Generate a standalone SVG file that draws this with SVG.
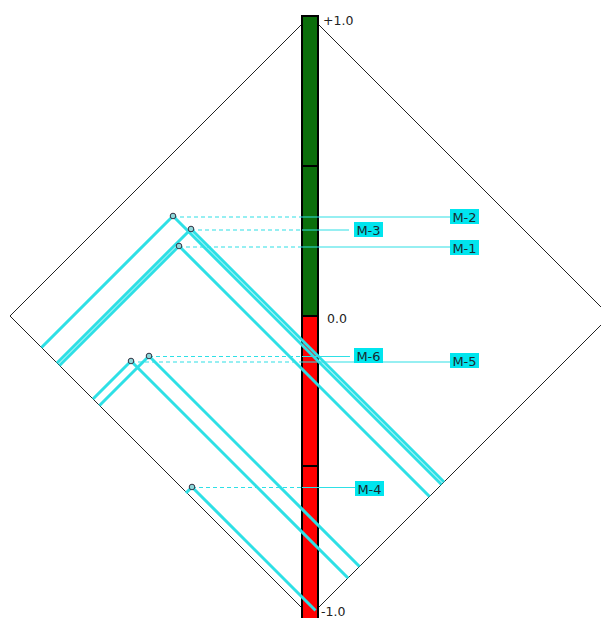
<svg xmlns="http://www.w3.org/2000/svg" width="601" height="618" viewBox="0 0 601 618">
<style>
.edge{fill:none;stroke:#222;stroke-width:1}
.ray{fill:none;stroke:#2ee0e6;stroke-width:3}
.dash{fill:none;stroke:#2ee0e6;stroke-width:1.2;stroke-dasharray:4 3}
.lead{fill:none;stroke:#2ee0e6;stroke-width:1.2}
.pt{fill:#8fd8da;stroke:#334;stroke-width:1}
.lbl rect{fill:#00e5ee}
.lbl text{font-family:"DejaVu Sans",Verdana,sans-serif;font-size:13px;fill:#1a2a30;text-anchor:middle}
.ax{font-family:"DejaVu Sans",Verdana,sans-serif;font-size:12.5px;fill:#222}
</style>
<rect width="601" height="618" fill="#fff"/>
<polygon class="edge" points="310,16 10,316 310,616 610,316"/>
<g id="scale">
<rect x="302" y="16" width="16" height="300" fill="#0b6e0b" stroke="#000" stroke-width="2"/>
<rect x="302" y="316" width="16" height="304" fill="#f00" stroke="#000" stroke-width="2"/>
<line x1="302" y1="166" x2="318" y2="166" stroke="#000" stroke-width="2"/>
<line x1="302" y1="466" x2="318" y2="466" stroke="#000" stroke-width="2"/>
<text class="ax" x="323" y="25">+1.0</text>
<text class="ax" x="327" y="323">0.0</text>
<text class="ax" x="321" y="616">-1.0</text>
</g>
<g id="connectors">
<polyline class="ray" points="41.5,347.5 173,216 441.5,484.5"/>
<polyline class="ray" points="57,363 191,229 444,482"/>
<polyline class="ray" points="59.5,365.5 179,246 429.5,496.5"/>
<polyline class="ray" points="99.5,405.5 149,356 359.5,566.5"/>
<polyline class="ray" points="93,399 131,361 348,578"/>
<polyline class="ray" points="186,493 192,487 315.5,610.5"/>
<line class="dash" x1="173" y1="217" x2="302" y2="217"/>
<line class="lead" x1="302" y1="217" x2="450" y2="217"/>
<line class="dash" x1="191" y1="230" x2="302" y2="230"/>
<line class="lead" x1="302" y1="230" x2="349" y2="230"/>
<line class="dash" x1="179" y1="247" x2="302" y2="247"/>
<line class="lead" x1="302" y1="247" x2="450" y2="247"/>
<line class="dash" x1="149" y1="356.5" x2="302" y2="356.5"/>
<line class="lead" x1="302" y1="356.5" x2="350" y2="356.5"/>
<line class="dash" x1="131" y1="362" x2="302" y2="362"/>
<line class="lead" x1="302" y1="362" x2="450" y2="362"/>
<line class="dash" x1="192" y1="487.5" x2="302" y2="487.5"/>
<line class="lead" x1="302" y1="487.5" x2="355" y2="487.5"/>
</g>
<g id="M-2"><circle class="pt" cx="173" cy="216" r="2.8"/><g class="lbl"><rect x="450" y="209" width="29" height="15"/><text x="464.5" y="221.5">M-2</text></g></g>
<g id="M-3"><circle class="pt" cx="191" cy="229" r="2.8"/><g class="lbl"><rect x="354" y="222" width="29" height="15"/><text x="368.5" y="234.5">M-3</text></g></g>
<g id="M-1"><circle class="pt" cx="179" cy="246" r="2.8"/><g class="lbl"><rect x="450" y="240" width="29" height="15"/><text x="464.5" y="252.5">M-1</text></g></g>
<g id="M-6"><circle class="pt" cx="149" cy="356" r="2.8"/><g class="lbl"><rect x="354" y="348" width="29" height="15"/><text x="368.5" y="360.5">M-6</text></g></g>
<g id="M-5"><circle class="pt" cx="131" cy="361" r="2.8"/><g class="lbl"><rect x="450" y="353" width="29" height="15"/><text x="464.5" y="365.5">M-5</text></g></g>
<g id="M-4"><circle class="pt" cx="192" cy="487" r="2.8"/><g class="lbl"><rect x="355" y="481" width="29" height="15"/><text x="369.5" y="493.5">M-4</text></g></g>
</svg>
